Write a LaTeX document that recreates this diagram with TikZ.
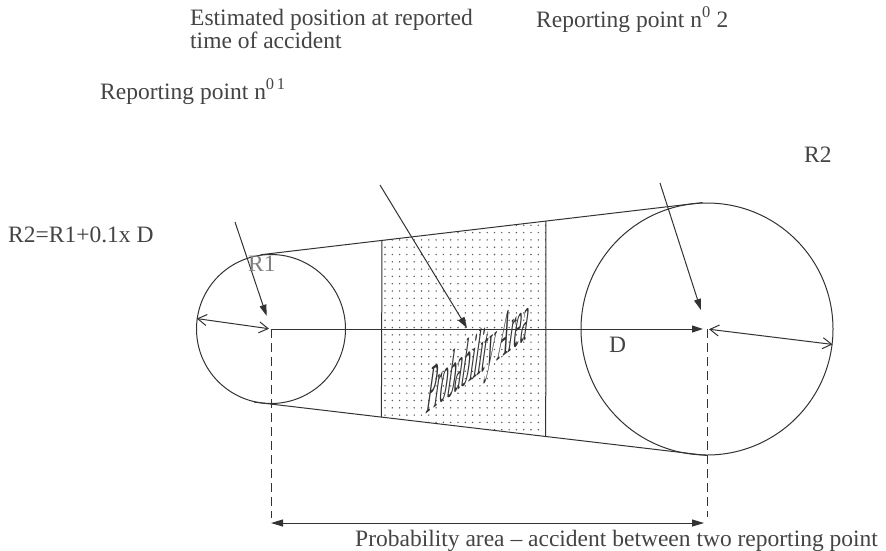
\documentclass[tikz,border=0pt]{standalone}
\usepackage{fontspec}
\setmainfont{Liberation Serif}
\usetikzlibrary{arrows.meta,calc}
\definecolor{ink}{HTML}{333333}
\definecolor{txt}{HTML}{444444}
\begin{document}
\begin{tikzpicture}[x=1pt,y=-1pt,
  line/.style={draw=ink,line width=1pt},
  fillhead/.style={-{Triangle[length=11pt,width=7pt]}},
  openhead/.style={{Straight Barb[length=9pt,width=11pt]}-{Straight Barb[length=9pt,width=11pt]}},
  bothfill/.style={{Triangle[length=12pt,width=7pt]}-{Triangle[length=12pt,width=7pt]}},
  dashline/.style={draw=ink,line width=0.8pt,dash pattern=on 9pt off 5pt},
  lbl/.style={font=\fontsize{23.5}{21}\selectfont, text=txt, inner sep=0pt, anchor=base west, align=left},
  ]
\useasboundingbox (0,0) rectangle (886,550);
\fill[white] (0,0) rectangle (886,550);

% centres and circles
\coordinate (c1) at (271,329);
\coordinate (c2) at (707,329);
\node[circle,line,minimum size=149pt,inner sep=0pt] (C1) at (c1) {};
\node[circle,line,minimum size=252pt,inner sep=0pt] (C2) at (c2) {};

% probability area corners on the two outer lines
\path (C1.98) -- (C2.92) coordinate[pos=0.2747] (tl) coordinate[pos=0.6457] (tr);
\path (C1.257.6) -- (C2.270) coordinate[pos=0.281] (bl) coordinate[pos=0.6438] (br);

\begin{scope}
  \clip (tl) -- (tr) -- (br) -- (bl) -- cycle;
  \foreach \i in {0,...,22}
    \foreach \j in {0,...,30}
      \fill[black!65] (385+\i*7.3, 218+\j*7.3) circle (0.8pt);
\end{scope}
\draw[line] (tl) -- (bl) (tr) -- (br);

% outer lines
\draw[line] (C1.98) -- (C2.92);
\draw[line] (C1.257.6) -- (C2.270);

% arrows
\coordinate (a1) at (235,222);
\coordinate (a2) at (380,185);
\coordinate (a2e) at (467,328);
\coordinate (a3) at (660,183);
\draw[line,fillhead,shorten >=14pt] (a1) -- (c1);
\draw[line,fillhead] (a2) -- (a2e);
\draw[line,fillhead,shorten >=20pt] (a3) -- (c2);
\draw[line,fillhead,shorten >=4pt] (c1) -- (c2);
\draw[line,openhead,shorten >=2pt] (C1.172) -- (c1);
\draw[line,openhead,shorten <=2pt] (c2) -- (C2.-7.5);

% dashed verticals and bottom dimension
\coordinate (d1) at (271,518);
\coordinate (d2) at (707,517);
\draw[dashline] (c1) -- (d1);
\draw[dashline] (c2) -- (d2);
\coordinate (e1) at (271,523);
\coordinate (e2) at (707,523);
\draw[line,bothfill,shorten >=3pt] (e1) -- (e2);

% labels
\node[lbl, anchor=north west] (est) at (190,9) {Estimated position at reported\\time of accident};
\node[lbl] (rp2) at (536,27) {Reporting point n\textsuperscript{0} 2};
\node[lbl] (rp1) at (100,99) {Reporting point n\textsuperscript{0\,1}};
\node[lbl] (r2) at (804,162) {R2};
\node[lbl] (eq) at (8,242) {R2=R1+0.1x D};
\node[lbl, text=gray] (r1) at (248,271) {R1};
\node[lbl] (dlab) at (609,352) {D};
\node[lbl] (cap) at (355,546) {Probability area – accident between two reporting point};

\begin{scope}[shift={(425,415)}, cm={0.76,0.57,0.5,3.55,(0,0)}]
  \node[transform shape, font=\fontsize{20}{20}\selectfont, text=ink, inner sep=0pt, anchor=base west] (pa) at (0,0) {Probability Area};
\end{scope}
\end{tikzpicture}
\end{document}
